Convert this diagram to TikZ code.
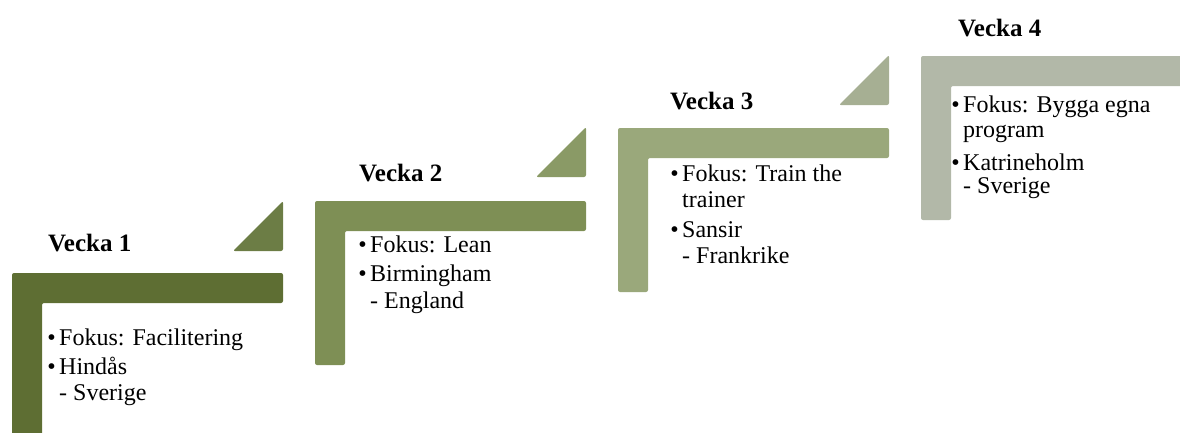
\documentclass[tikz,border=0pt]{standalone}
\usepackage{fontspec}
\setmainfont{LiberationSerif-Regular.ttf}[BoldFont=LiberationSerif-Bold.ttf]
\definecolor{barA}{HTML}{5E6E33}
\definecolor{triA}{HTML}{6C7D45}
\definecolor{barB}{HTML}{7E8F55}
\definecolor{triB}{HTML}{8A9A66}
\definecolor{barC}{HTML}{9AA87B}
\definecolor{triC}{HTML}{A6AF93}
\definecolor{barD}{HTML}{B2B8A8}
\newcommand{\lshape}[4]{%
  \fill[#4, rounded corners=2] (#1,#3) -- (#1,#2) -- ({#1+271},#2) -- ({#1+271},{#2+30}) -- ({#1+30},{#2+30}) -- ({#1+30},#3) -- cycle;}
\newcommand{\tri}[3]{%
  \fill[#3, rounded corners=2] ({#1-50},#2) -- (#1,#2) -- (#1,{#2-50}) -- cycle;}
\tikzset{
  title/.style={anchor=base west, inner sep=0pt, font=\fontsize{25}{30}\selectfont\bfseries},
  body/.style={anchor=base west, inner sep=0pt, font=\fontsize{24}{28}\selectfont},
  bul/.style={anchor=base east, inner sep=0pt, font=\fontsize{24}{28}\selectfont}
}
\begin{document}
\begin{tikzpicture}[x=1pt, y=-1pt]
\useasboundingbox (0,0) rectangle (1180,432);
\clip (0,0) rectangle (1180,432);
% step shapes
\lshape{12}{273}{440}{barA}
\tri{283}{251}{triA}
\lshape{315}{201}{365}{barB}
\tri{586}{177}{triB}
\lshape{618}{128}{292}{barC}
\tri{889}{105}{triC}
\lshape{921}{56}{220}{barD}
% week 1
\node[title] (v1) at (48,251) {Vecka 1};
\node[bul] (b1a) at (56,345) {\textbullet};
\node[body] (t1a) at (59,345) {Fokus: Facilitering};
\node[bul] (b1b) at (56,374) {\textbullet};
\node[body] (t1b) at (59,374) {Hindås};
\node[body] (t1c) at (59,400) {- Sverige};
% week 2
\node[title] (v2) at (359,181.5) {Vecka 2};
\node[bul] (b2a) at (367,252) {\textbullet};
\node[body] (t2a) at (370,252) {Fokus: Lean};
\node[bul] (b2b) at (367,281) {\textbullet};
\node[body] (t2b) at (370,281) {Birmingham};
\node[body] (t2c) at (370,308) {- England};
% week 3
\node[title] (v3) at (670,109) {Vecka 3};
\node[bul] (b3a) at (679,181) {\textbullet};
\node[body] (t3a) at (682,181) {Fokus: Train the};
\node[body] (t3b) at (682,207.5) {trainer};
\node[bul] (b3b) at (679,237) {\textbullet};
\node[body] (t3c) at (682,237) {Sansir};
\node[body] (t3d) at (682,263) {- Frankrike};
% week 4
\node[title] (v4) at (958,36) {Vecka 4};
\node[bul] (b4a) at (960,112) {\textbullet};
\node[body] (t4a) at (963,112) {Fokus: Bygga egna};
\node[body] (t4b) at (963,137) {program};
\node[bul] (b4b) at (960,170) {\textbullet};
\node[body] (t4c) at (963,170) {Katrineholm};
\node[body] (t4d) at (963,193) {- Sverige};
\end{tikzpicture}
\end{document}
